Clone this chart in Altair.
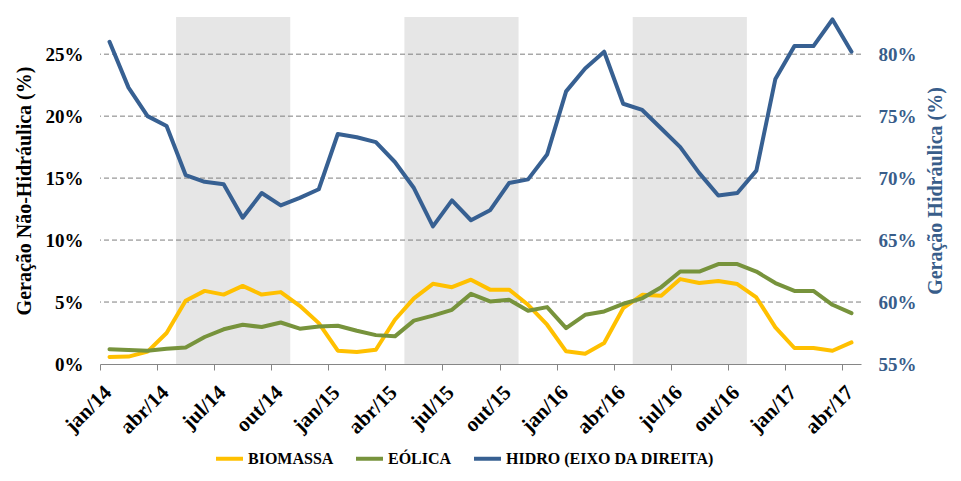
import json
import altair as alt
import pandas as pd

# ---- data ----
months = [f"{m}/{y}" for y in ("14", "15", "16", "17")
          for m in ("jan", "fev", "mar", "abr", "mai", "jun", "jul", "ago", "set", "out", "nov", "dez")][:40]

biomassa = [0.56, 0.6, 1.0, 2.5, 5.1, 5.9, 5.6, 6.3, 5.6, 5.8, 4.7, 3.3,
            1.07, 0.97, 1.15, 3.57, 5.3, 6.47, 6.2, 6.8, 6.0, 6.0, 4.78, 3.17,
            1.02, 0.83, 1.69, 4.5, 5.58, 5.5, 6.85, 6.53, 6.7, 6.45, 5.37, 2.95,
            1.29, 1.29, 1.07, 1.74]
eolica = [1.2, 1.13, 1.07, 1.23, 1.34, 2.18, 2.8, 3.17, 2.98, 3.35, 2.85, 3.03,
          3.09, 2.68, 2.33, 2.23, 3.5, 3.9, 4.37, 5.66, 5.05, 5.18, 4.3, 4.59,
          2.9, 3.97, 4.24, 4.86, 5.3, 6.2, 7.46, 7.46, 8.06, 8.06, 7.46, 6.53,
          5.9, 5.9, 4.78, 4.1]
hidro = [81.0, 77.3, 75.0, 74.2, 70.25, 69.7, 69.5, 66.8, 68.8, 67.8, 68.4, 69.1,
         73.56, 73.3, 72.9, 71.3, 69.2, 66.1, 68.2, 66.6, 67.4, 69.6, 69.9, 71.9,
         77.0, 78.85, 80.2, 76.0, 75.5, 74.0, 72.5, 70.4, 68.6, 68.8, 70.6, 78.0,
         80.65, 80.65, 82.8, 80.2]

series_names = ["BIOMASSA", "EÓLICA", "HIDRO (EIXO DA DIREITA)"]
series_colors = ["#FFC000", "#77933C", "#376092"]

tick_labels = ["jan/14", "abr/14", "jul/14", "out/14", "jan/15", "abr/15", "jul/15",
               "out/15", "jan/16", "abr/16", "jul/16", "out/16", "jan/17", "abr/17"]

# dry-season shaded bands (first and last month index, inclusive)
band_start = [4, 16, 28]
band_end = [9, 21, 33]

left_ticks = [0, 5, 10, 15, 20, 25]
left_grid = [5, 10, 15, 20, 25]
right_ticks = [55, 60, 65, 70, 75, 80]

# ---- tables ----
rows = []
for i in range(40):
    rows.append({"i": i, "mes": months[i], "serie": series_names[0], "v": biomassa[i]})
    rows.append({"i": i, "mes": months[i], "serie": series_names[1], "v": eolica[i]})
    rows.append({"i": i, "mes": months[i], "serie": series_names[2], "v": hidro[i]})
df = pd.DataFrame(rows)
bands = pd.DataFrame({"a": band_start, "b": band_end, "top": 28, "bottom": 0})
grid = pd.DataFrame({"g": left_grid})

FONT = "Liberation Serif"
W, H = 761, 347

xscale = alt.Scale(domain=[-0.5, 39.5], nice=False, zero=False)
xaxis = alt.Axis(
    values=[-0.5 + 3 * k for k in range(14)],
    labelExpr=f"{json.dumps(tick_labels)}[round((datum.value + 0.5) / 3)]",
    labelAngle=-45, labelAlign="right", labelBaseline="middle",
    labelOffset=8, labelPadding=19, labelFlush=False, labelOverlap=False,
    labelFont=FONT, labelFontSize=21, labelFontWeight="bold", labelColor="#000000",
    tickSize=6, tickColor="#868686", domainColor="#868686", domainWidth=1,
    grid=False, title=None,
)
yscale_l = alt.Scale(domain=[0, 28], nice=False, zero=True)
yaxis_l = alt.Axis(
    values=left_ticks, labelExpr="datum.value + '%'",
    labelFont=FONT, labelFontSize=19, labelFontWeight="bold", labelColor="#000000",
    labelPadding=17, domain=False, ticks=False, grid=False,
    title="Geração Não-Hidráulica (%)", titleFont=FONT, titleFontSize=20,
    titleFontWeight="bold", titleColor="#000000", titlePadding=11,
)
yscale_r = alt.Scale(domain=[55, 83], nice=False, zero=False)
yaxis_r = alt.Axis(
    orient="right", values=right_ticks, labelExpr="datum.value + '%'",
    labelFont=FONT, labelFontSize=19, labelFontWeight="bold", labelColor="#385D8A",
    labelPadding=17, domain=False, ticks=False, grid=False,
    title="Geração Hidráulica (%)", titleFont=FONT, titleFontSize=20,
    titleFontWeight="bold", titleColor="#385D8A", titlePadding=9,
    titleAngle=270, titleBaseline="top",
)

color = alt.Color(
    "serie:N",
    scale=alt.Scale(domain=series_names, range=series_colors),
    sort=series_names,
    legend=alt.Legend(
        title=None, orient="none", direction="horizontal", legendX=114, legendY=426,
        symbolType="stroke", symbolSize=729, symbolStrokeWidth=4,
        labelFont=FONT, labelFontSize=16, labelFontWeight="bold", labelColor="#000000",
        labelOffset=3, labelLimit=500, columnPadding=14, padding=0,
    ),
)

shade = alt.Chart(bands).transform_calculate(
    x1="datum.a - 0.5", x2="datum.b + 0.5"
).mark_rect(color="#E6E6E6").encode(
    x=alt.X("x1:Q", scale=xscale, axis=xaxis),
    x2="x2:Q",
    y=alt.Y("top:Q", scale=yscale_l, axis=yaxis_l),
    y2="bottom:Q",
)

gridlines = alt.Chart(grid).mark_rule(color="#7F7F7F", strokeWidth=1, strokeDash=[5, 3]).encode(
    y=alt.Y("g:Q", scale=yscale_l, axis=yaxis_l),
)

left_lines = alt.Chart(df).transform_filter(
    alt.FieldOneOfPredicate(field="serie", oneOf=series_names[:2])
).mark_line(strokeWidth=4, strokeJoin="round", strokeCap="round").encode(
    x=alt.X("i:Q", scale=xscale, axis=xaxis),
    y=alt.Y("v:Q", scale=yscale_l, axis=yaxis_l),
    color=color,
    order=alt.Order("i:Q"),
)

hydro_line = alt.Chart(df).transform_filter(
    alt.FieldEqualPredicate(field="serie", equal=series_names[2])
).mark_line(strokeWidth=4, strokeJoin="round", strokeCap="round").encode(
    x=alt.X("i:Q", scale=xscale, axis=xaxis),
    y=alt.Y("v:Q", scale=yscale_r, axis=yaxis_r),
    color=color,
    order=alt.Order("i:Q"),
)

left = alt.layer(shade, gridlines, left_lines)

chart = alt.layer(left, hydro_line).resolve_scale(y="independent").properties(
    width=W, height=H,
    padding={"left": 92, "top": 9, "right": 92, "bottom": 109},
    autosize=alt.AutoSizeParams(type="none"),
    background="#FFFFFF",
).configure_view(stroke=None)

chart.save("out.html", embed_options={"renderer": "svg", "actions": False})
